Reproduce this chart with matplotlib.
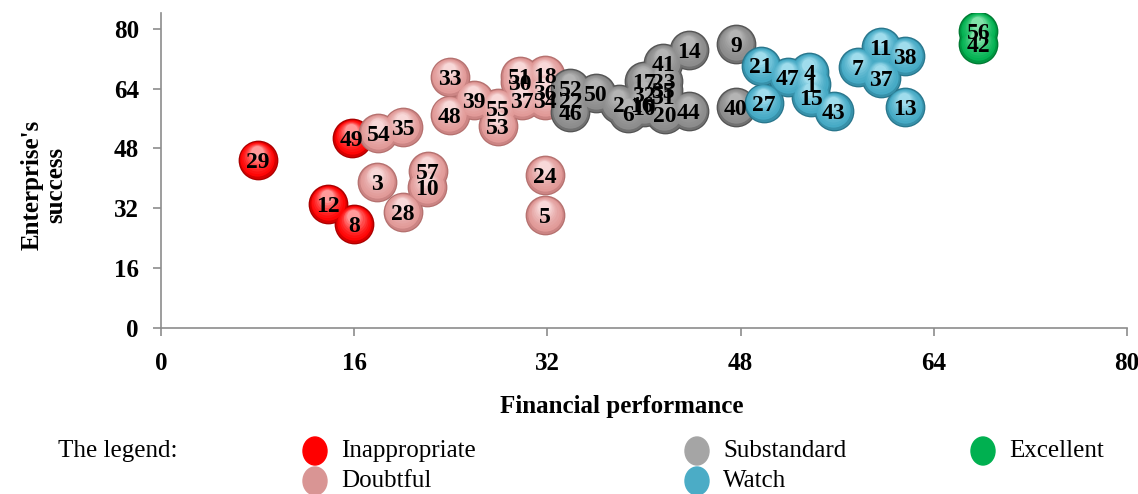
import numpy as np
import matplotlib
matplotlib.use("Agg")
import matplotlib.pyplot as plt
import matplotlib.colors as mcolors
from matplotlib.transforms import offset_copy

plt.rcParams['font.family'] = ['Liberation Serif', 'DejaVu Serif']

# ---- data ----
inap_x = [8.0, 15.8, 13.8, 16.0]
inap_y = [44.9, 50.8, 33.2, 27.8]
inap_lab = ['29', '49', '12', '8']

doubt_x = [18.0, 20.0, 17.9, 22.1, 22.0, 20.0, 23.9, 23.9, 25.9, 27.9, 27.9,
           29.7, 29.7, 29.9, 31.8, 31.8, 31.8, 31.8, 31.8]
doubt_y = [52.1, 53.7, 39.0, 42.0, 37.7, 31.0, 67.1, 57.0, 61.0, 58.8, 54.0,
           67.4, 65.8, 61.0, 67.6, 63.1, 61.0, 40.9, 30.2]
doubt_lab = ['54', '35', '3', '57', '10', '28', '33', '48', '39', '55', '53',
             '51', '30', '37', '18', '36', '34', '24', '5']

sub_x = [33.9, 33.9, 33.9, 36.0, 37.9, 38.7, 39.8, 40.0, 40.0, 40.0, 41.6,
         41.6, 41.6, 41.6, 43.7, 41.7, 43.7, 47.6, 47.6]
sub_y = [64.2, 61.0, 57.8, 62.8, 59.9, 57.5, 59.8, 59.0, 62.5, 66.0, 66.0,
         63.5, 62.0, 70.9, 74.3, 57.2, 58.0, 75.9, 59.1]
sub_lab = ['52', '22', '46', '50', '2', '6', '16', '10', '32', '17', '23',
           '35', '31', '41', '14', '20', '44', '9', '40']

watch_x = [49.7, 49.9, 51.9, 53.7, 53.8, 53.8, 55.7, 57.7, 59.6, 59.6, 61.6, 61.6]
watch_y = [70.1, 60.2, 67.1, 68.4, 65.2, 61.8, 58.0, 69.8, 75.1, 66.8, 72.7, 59.1]
watch_lab = ['21', '27', '47', '4', '1', '15', '43', '7', '11', '37', '38', '13']

exc_x = [67.7, 67.7]
exc_y = [79.4, 75.9]
exc_lab = ['56', '42']

groups = [
    ('Inappropriate', inap_x, inap_y, inap_lab, '#ff0000', '#7a0000', '#ff9a9a'),
    ('Doubtful', doubt_x, doubt_y, doubt_lab, '#e09896', '#9c5a59', '#f8d8d8'),
    ('Substandard', sub_x, sub_y, sub_lab, '#8a8a8a', '#363636', '#b4b4b4'),
    ('Watch', watch_x, watch_y, watch_lab, '#43a8c4', '#1a5a6c', '#9fdcec'),
    ('Excellent', exc_x, exc_y, exc_lab, '#00b050', '#005c22', '#7fe3a8'),
]
leg_colors = {'Inappropriate': '#ff0000', 'Doubtful': '#d99594', 'Substandard': '#a5a5a5',
              'Watch': '#4bacc6', 'Excellent': '#00b050'}

fig = plt.figure(figsize=(11.38, 4.94), dpi=100)
ax = fig.add_axes([161 / 1138, 1 - 328 / 494, (1127 - 161) / 1138, (328 - 13) / 494])


def mix(c1, c2, f):
    a = np.array(mcolors.to_rgb(c1))
    b = np.array(mcolors.to_rgb(c2))
    return tuple(a + (b - a) * f)


S = 820  # ball area in pt^2
R = np.sqrt(S) / 2
for name, xs, ys, labs, base, dark, light in groups:
    ax.scatter(xs, ys, s=S, color=mix(dark, base, 0.35), zorder=2, linewidths=0)
    nl = 9
    for k in range(nl):
        f = k / (nl - 1)
        col = mix(base, light, f ** 1.6) if f > 0 else mix(dark, base, 0.7)
        sz = S * (0.94 - 0.62 * f) ** 2
        tr = offset_copy(ax.transData, fig=fig, x=-0.05 * R * f, y=0.38 * R * f, units='points')
        ax.scatter(xs, ys, s=sz, color=col, zorder=2, linewidths=0, transform=tr)
    for x, y, t in zip(xs, ys, labs):
        ax.text(x, y - 0.6, t, ha='center', va='center', fontsize=17,
                fontweight='bold', color='black', zorder=3)

ax.set_xlim(0, 80)
ax.set_ylim(0, 84.2)
ax.set_xticks([0, 16, 32, 48, 64, 80])
ax.set_yticks([0, 16, 32, 48, 64, 80])
for sp in ['top', 'right']:
    ax.spines[sp].set_visible(False)
for sp in ['left', 'bottom']:
    ax.spines[sp].set_color('#8c8c8c')
    ax.spines[sp].set_linewidth(1.2)
ax.tick_params(axis='both', colors='#8c8c8c', length=6, width=1.2, labelsize=18,
               labelcolor='black')
ax.tick_params(axis='x', pad=11)
ax.tick_params(axis='y', pad=10)
for lbl in ax.get_xticklabels() + ax.get_yticklabels():
    lbl.set_fontweight('bold')

fig.text(622 / 1138, 1 - 407 / 494, 'Financial performance', ha='center', va='center',
         fontsize=18, fontweight='bold')
fig.text(44 / 1138, 1 - 185 / 494, "Enterprise's\nsuccess", ha='center', va='center',
         rotation=90, fontsize=18, fontweight='bold', linespacing=1.0)

# ---- legend ----
fig.text(58 / 1138, 1 - 451 / 494, 'The legend:', ha='left', va='center', fontsize=18)
leg_pos = {
    'Inappropriate': (315, 451), 'Doubtful': (315, 481),
    'Substandard': (697, 451), 'Watch': (697, 481), 'Excellent': (983, 451),
}
for name, xs, ys, labs, base, dark, light in groups:
    px, py = leg_pos[name]
    fig.add_artist(matplotlib.patches.Ellipse((px / 1138, 1 - py / 494), 24 / 1138, 28 / 494,
                                              transform=fig.transFigure, color=leg_colors[name]))
    fig.text((px + 26) / 1138, 1 - py / 494, name, ha='left', va='center', fontsize=18)

fig.savefig('out.png', dpi=100)
